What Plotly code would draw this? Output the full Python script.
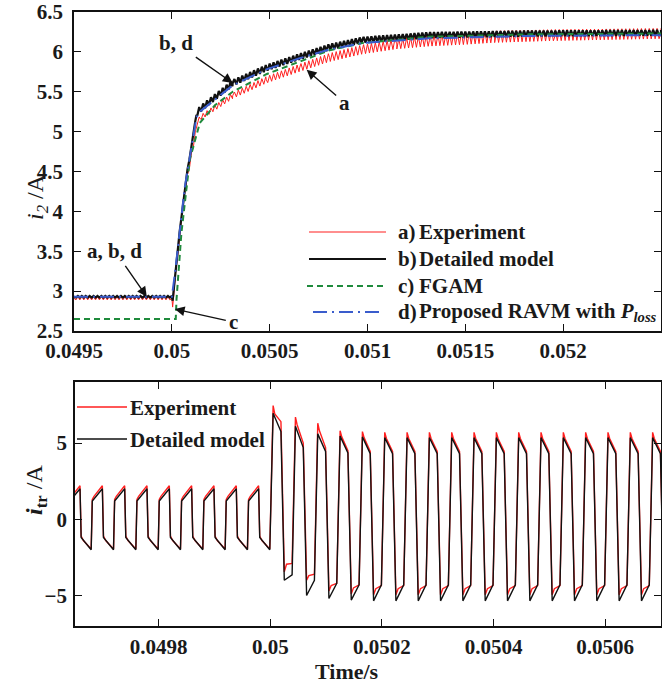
import numpy as np
import plotly.graph_objects as go

W, H = 662, 685
FONT = "Liberation Serif"
INK = "#1a1a1a"

# ---------------- i2 step response (top panel) ----------------
# mean-curve key points: time [s], current [A]
exp_t = [0.0495, 0.05, 0.050004, 0.050018, 0.050066, 0.050130, 0.050143, 0.050311,
         0.050483, 0.050653, 0.050806, 0.050974, 0.05115, 0.051316, 0.05165, 0.05196, 0.0525]
exp_i = [2.91, 2.91, 2.80, 3.20, 4.25, 5.10, 5.17, 5.45,
         5.65, 5.80, 5.93, 6.03, 6.10, 6.14, 6.19, 6.21, 6.23]

det_t = [0.0495, 0.05, 0.050004, 0.050015, 0.050066, 0.050126, 0.050143, 0.050311,
         0.050483, 0.050653, 0.050806, 0.050974, 0.051316, 0.051827, 0.0525]
det_i = [2.93, 2.93, 2.88, 3.19, 4.30, 5.21, 5.28, 5.61,
         5.80, 5.94, 6.06, 6.15, 6.21, 6.23, 6.24]

fgam_t = [0.0495, 0.050020, 0.050024, 0.050049, 0.050092, 0.050143, 0.05022, 0.050311,
          0.050483, 0.050653, 0.050806, 0.050974, 0.051316, 0.051827, 0.0525]
fgam_i = [2.65, 2.65, 2.90, 3.73, 4.65, 5.11, 5.33, 5.50,
          5.72, 5.88, 6.02, 6.11, 6.19, 6.22, 6.23]

ravm_t = [0.0495, 0.05, 0.050015, 0.050066, 0.050126, 0.050143, 0.050311, 0.050483,
          0.050653, 0.050806, 0.050974, 0.051316, 0.051827, 0.0525]
ravm_i = [2.93, 2.93, 3.20, 4.30, 5.18, 5.25, 5.58, 5.78,
          5.92, 6.03, 6.11, 6.17, 6.20, 6.21]

# peak-to-peak switching ripple on i2 [A]
exp_rip_t = [0.0495, 0.05, 0.05013, 0.0515, 0.0525]
exp_rip = [0.04, 0.04, 0.06, 0.15, 0.13]
det_rip_t = [0.0495, 0.05, 0.05012, 0.05014, 0.0525]
det_rip = [0.02, 0.02, 0.03, 0.08, 0.07]
RIPPLE_STEP = 10e-6  # half period of the rectified ripple (50 kHz)

# ---------------- transformer current (bottom panel) ----------------
SW_PERIOD = 40e-6     # 25 kHz switching
STEP_TIME = 0.05
cycle_idx = list(range(-9, 18))
# detailed model: [high start, high end, low start, low end] per cycle
det_hi0 = [1.2] * 9 + [6.95, 6.10, 5.60, 5.45, 5.40, 5.35, 5.35, 5.35, 5.35, 5.35, 5.35, 5.35, 5.35, 5.35, 5.35, 5.35, 5.35, 5.35]
det_hi1 = [2.0] * 9 + [5.75, 4.70, 4.45, 4.35, 4.30, 4.30, 4.30, 4.30, 4.30, 4.30, 4.30, 4.30, 4.30, 4.30, 4.30, 4.30, 4.30, 4.30]
det_lo0 = [-1.2] * 9 + [-4.00, -5.00, -5.20, -5.30, -5.35, -5.35, -5.35, -5.35, -5.35, -5.35, -5.35, -5.35, -5.35, -5.35, -5.35, -5.35, -5.35, -5.35]
det_lo1 = [-2.0] * 9 + [-3.65, -4.00, -4.20, -4.30, -4.30, -4.30, -4.30, -4.30, -4.30, -4.30, -4.30, -4.30, -4.30, -4.30, -4.30, -4.30, -4.30, -4.30]
# experiment: spike, knee, end of high half; start, knee, end of low half
exp_hs = [1.3] * 9 + [7.45, 6.70, 6.30, 5.80, 5.75, 5.70, 5.70, 5.70, 5.70, 5.70, 5.70, 5.70, 5.70, 5.70, 5.70, 5.70, 5.70, 5.70]
exp_hk = [1.5] * 9 + [6.90, 6.20, 5.80, 5.40, 5.35, 5.30, 5.30, 5.30, 5.30, 5.30, 5.30, 5.30, 5.30, 5.30, 5.30, 5.30, 5.30, 5.30]
exp_he = [2.2] * 9 + [6.40, 5.00, 4.70, 4.50, 4.45, 4.45, 4.45, 4.45, 4.45, 4.45, 4.45, 4.45, 4.45, 4.45, 4.45, 4.45, 4.45, 4.45]
exp_ls = [-1.1] * 9 + [-3.45, -4.00, -4.70, -4.90, -4.95, -4.95, -4.95, -4.95, -4.95, -4.95, -4.95, -4.95, -4.95, -4.95, -4.95, -4.95, -4.95, -4.95]
exp_lk = [-1.4] * 9 + [-2.95, -3.70, -4.35, -4.50, -4.55, -4.55, -4.55, -4.55, -4.55, -4.55, -4.55, -4.55, -4.55, -4.55, -4.55, -4.55, -4.55, -4.55]
exp_le = [-1.95] * 9 + [-2.90, -3.60, -4.20, -4.30, -4.35, -4.35, -4.35, -4.35, -4.35, -4.35, -4.35, -4.35, -4.35, -4.35, -4.35, -4.35, -4.35, -4.35]


def with_ripple(kt, kv, rt, rv):
    grid = np.arange(kt[0], kt[-1] + 1e-9, RIPPLE_STEP)
    sign = np.where(np.arange(grid.size) % 2 == 0, 0.5, -0.5)
    g_val = np.interp(grid, kt, kv) + sign * np.interp(grid, rt, rv)
    t = np.concatenate([grid, np.asarray(kt, float)])
    v = np.concatenate([g_val, np.asarray(kv, float)])
    order = np.argsort(t, kind="stable")
    return t[order], v[order]


def model_wave():
    t, v = [], []
    for n, k in enumerate(cycle_idx):
        s = STEP_TIME - 1e-6 + k * SW_PERIOD
        edge = 2e-6 if k < 0 else 6e-6
        t += [s + edge, s + SW_PERIOD / 2, s + SW_PERIOD / 2 + edge, s + SW_PERIOD]
        v += [det_hi0[n], det_hi1[n], det_lo0[n], det_lo1[n]]
    return t, v


def exp_wave():
    t, v = [], []
    for n, k in enumerate(cycle_idx):
        s = STEP_TIME - 1e-6 + k * SW_PERIOD
        edge = 2e-6 if k < 0 else 6e-6
        half = SW_PERIOD / 2
        t += [s + edge, s + edge + 3e-6, s + half,
              s + half + edge, s + half + edge + 4e-6, s + SW_PERIOD]
        v += [exp_hs[n], exp_hk[n], exp_he[n], exp_ls[n], exp_lk[n], exp_le[n]]
    return t, v


fig = go.Figure()

et, ev = with_ripple(exp_t, exp_i, exp_rip_t, exp_rip)
dt, dv = with_ripple(det_t, det_i, det_rip_t, det_rip)

RED, BLACK, GREEN, BLUE = "#ff1f1f", "#111111", "#1f8a3c", "#3a5ccc"

fig.add_trace(go.Scatter(x=et, y=ev, mode="lines", line=dict(color=RED, width=1),
                         xaxis="x", yaxis="y", showlegend=False))
fig.add_trace(go.Scatter(x=dt, y=dv, mode="lines", line=dict(color=BLACK, width=2.2),
                         xaxis="x", yaxis="y", showlegend=False))
fig.add_trace(go.Scatter(x=fgam_t, y=fgam_i, mode="lines",
                         line=dict(color=GREEN, width=2, dash="6px,4px"),
                         xaxis="x", yaxis="y", showlegend=False))
fig.add_trace(go.Scatter(x=ravm_t, y=ravm_i, mode="lines",
                         line=dict(color=BLUE, width=2, dash="14px,5px,2px,5px"),
                         xaxis="x", yaxis="y", showlegend=False))

mt, mv = model_wave()
xt, xv = exp_wave()
fig.add_trace(go.Scatter(x=xt, y=xv, mode="lines", line=dict(color=RED, width=1.4),
                         xaxis="x2", yaxis="y2", showlegend=False))
fig.add_trace(go.Scatter(x=mt, y=mv, mode="lines", line=dict(color=BLACK, width=1.4),
                         xaxis="x2", yaxis="y2", showlegend=False))

TICK_FONT = dict(family=FONT, size=21, color=INK, weight="bold")
axis_common = dict(showline=True, linecolor=BLACK, linewidth=1.6, mirror="ticks",
                   ticks="inside", ticklen=7, tickwidth=1.4, tickcolor=BLACK,
                   showgrid=False, zeroline=False, tickfont=TICK_FONT, automargin=False)

top_x_ticks = [0.0495, 0.05, 0.0505, 0.051, 0.0515, 0.052]
top_x_text = ["0.0495", "0.05", "0.0505", "0.051", "0.0515", "0.052"]
top_y_ticks = [2.5, 3, 3.5, 4, 4.5, 5, 5.5, 6, 6.5]
top_y_text = ["2.5", "3", "3.5", "4", "4.5", "5", "5.5", "6", "6.5"]
bot_x_ticks = [0.0498, 0.05, 0.0502, 0.0504, 0.0506]
bot_x_text = ["0.0498", "0.05", "0.0502", "0.0504", "0.0506"]
bot_y_ticks = [-5, 0, 5]
bot_y_text = ["\u22125", "0", "5"]


def px_x(x):
    return x / W


def px_y(y):
    return 1 - y / H


fig.update_layout(
    width=W, height=H, margin=dict(l=0, r=0, t=0, b=0, autoexpand=False),
    paper_bgcolor="white", plot_bgcolor="white",
    font=dict(family=FONT, color=INK),
    xaxis=dict(domain=[px_x(74), px_x(661)], range=[0.0495, 0.0525], anchor="y",
               tickvals=top_x_ticks, ticktext=top_x_text, **axis_common),
    yaxis=dict(domain=[px_y(331), px_y(12)], range=[2.5, 6.5], anchor="x",
               tickvals=top_y_ticks, ticktext=top_y_text, ticklabelstandoff=5,
               **axis_common),
    xaxis2=dict(domain=[px_x(75), px_x(661)], range=[0.04965, 0.0507], anchor="y2",
                tickvals=bot_x_ticks, ticktext=bot_x_text, ticklabelstandoff=1,
                **axis_common),
    yaxis2=dict(domain=[px_y(626), px_y(382)], range=[-7, 9], anchor="x2",
                tickvals=bot_y_ticks, ticktext=bot_y_text, ticklabelstandoff=2,
                **axis_common),
)

ann = []
LBL = dict(family=FONT, size=21, color=INK)


def callout(text, x, y, ax, ay):
    ann.append(dict(x=x, y=y, xref="x", yref="y", ax=ax, ay=ay, text="<b>%s</b>" % text,
                    showarrow=True, arrowhead=2, arrowsize=1.4, arrowwidth=1.4,
                    arrowcolor=BLACK, font=LBL, standoff=0, startstandoff=2))


callout("b, d", 0.050311, 5.61, -57, -40)
callout("a", 0.050689, 5.775, 38, 33)
callout("a, b, d", 0.049872, 2.93, -32, -46)
callout("c", 0.050015, 2.775, 59, 13)

# legend of the top panel
top_leg = [("a)", "Experiment", RED, 1.2, "solid", 232, 309, 386),
           ("b)", "Detailed model", BLACK, 2.2, "solid", 259, 309, 386),
           ("c)", "FGAM", GREEN, 2, "6px,4px", 286, 307, 383),
           ("d)", "Proposed RAVM with <i>P</i><sub><i>loss</i></sub>", BLUE, 2,
            "14px,5px,2px,5px", 312, 313, 383)]
shapes = []
for tag, name, col, lw, dash, yy, x0, x1 in top_leg:
    shapes.append(dict(type="line", xref="paper", yref="paper", x0=px_x(x0), x1=px_x(x1),
                       y0=px_y(yy), y1=px_y(yy), line=dict(color=col, width=lw, dash=dash)))
    ann.append(dict(x=px_x(396), y=px_y(yy), xref="paper", yref="paper", text="<b>%s</b>" % tag,
                    showarrow=False, xanchor="left", yanchor="middle", font=LBL))
    ann.append(dict(x=px_x(417), y=px_y(yy), xref="paper", yref="paper", text="<b>%s</b>" % name,
                    showarrow=False, xanchor="left", yanchor="middle", font=LBL))

# legend of the bottom panel
for name, col, yy in [("Experiment", RED, 407), ("Detailed model", BLACK, 439)]:
    shapes.append(dict(type="line", xref="paper", yref="paper", x0=px_x(77), x1=px_x(127),
                       y0=px_y(yy), y1=px_y(yy), line=dict(color=col, width=1.4)))
    ann.append(dict(x=px_x(128), y=px_y(yy + 1), xref="paper", yref="paper",
                    text="<b>%s</b>" % name, showarrow=False, xanchor="left",
                    yanchor="middle", font=LBL))

# axis titles
ann.append(dict(x=px_x(20), y=px_y(172), xref="paper", yref="paper",
                text="<i>i</i><sub><i>2</i></sub> /A", textangle=-90, showarrow=False,
                font=dict(family=FONT, size=24, color=INK)))
ann.append(dict(x=px_x(19), y=px_y(517), xref="paper", yref="paper",
                text="<b><i>i</i></b><sub><b>tr</b></sub> /A", textangle=-90, showarrow=False,
                font=dict(family=FONT, size=24, color=INK)))
ann.append(dict(x=px_x(347), y=0, xref="paper", yref="paper",
                text="<b>Time/s</b>", showarrow=False, xanchor="center", yanchor="bottom",
                borderpad=0, font=dict(family=FONT, size=22, color=INK)))

fig.update_layout(annotations=ann, shapes=shapes)
fig.write_html("out.html")
